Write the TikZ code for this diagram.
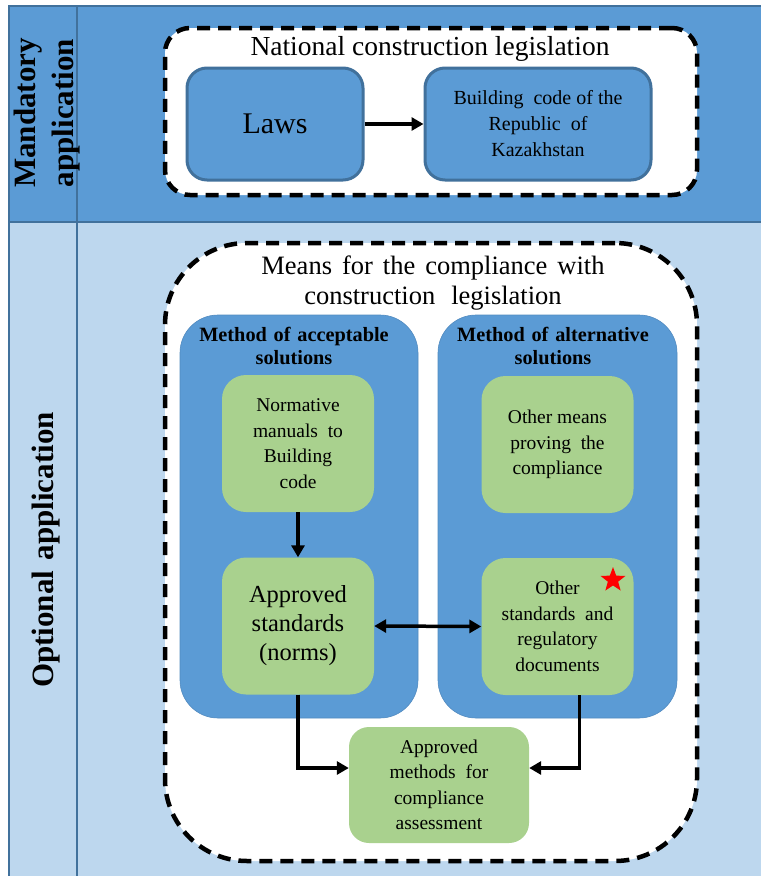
\documentclass[tikz,border=0pt]{standalone}
\usepackage{fontspec}
\setmainfont{Liberation Serif}
\usetikzlibrary{arrows.meta,shapes.geometric}
\definecolor{dblue}{HTML}{5B9BD5}
\definecolor{lblue}{HTML}{BDD7EE}
\definecolor{bline}{HTML}{41719C}
\definecolor{gbox}{HTML}{A9D18E}
\tikzset{
  dashbox/.style={draw=black, fill=white, line width=4.5pt, dash pattern=on 13pt off 8pt, rectangle, inner sep=0pt},
  bluebox/.style={draw=bline, fill=dblue, line width=3pt, rectangle, rounded corners=20pt, align=center, inner sep=0pt},
  panel/.style={draw=dblue!90!black, fill=dblue, line width=0.6pt, rectangle, rounded corners=38pt, minimum width=238pt, minimum height=403pt, inner sep=0pt},
  greenbox/.style={fill=gbox, rectangle, rounded corners=24pt, align=center, inner sep=0pt, minimum width=152pt, minimum height=137pt},
  gtext/.style={font=\fontsize{19.5}{25.5}\selectfont},
  ptitle/.style={text width=236pt, align=center, inner sep=0pt, font=\bfseries\fontsize{20.3}{23}\selectfont},
  arr/.style={line width=3.5pt, -{Triangle[length=12pt,width=13pt]}},
  darr/.style={line width=3.5pt, {Triangle[length=12pt,width=13pt]}-{Triangle[length=12pt,width=13pt]}},
  sidelabel/.style={rotate=90, text width=300pt, align=center, inner sep=0pt, font=\bfseries\fontsize{31}{38}\selectfont}
}
\begin{document}
\begin{tikzpicture}[x=1pt,y=-1pt]
\useasboundingbox (0,0) rectangle (761,876);
% table
\fill[dblue] (9,6) rectangle (761,222);
\fill[lblue] (9,222) rectangle (761,876);
\draw[bline, line width=1.5pt] (9,876) -- (9,6) -- (761,6);
\draw[bline, line width=1.5pt] (77,6) -- (77,876);
\draw[bline, line width=1.5pt] (9,222) -- (761,222);
\node[sidelabel] (mand) at (47,113) {Mandatory\\application};
\node[sidelabel] (opt) at (46,550) {Optional application};
% top group
\node[dashbox, rounded corners=25pt, minimum width=532pt, minimum height=167pt] (natl) at (431,111.5) {};
\node[font=\fontsize{27.5}{30}\selectfont] (natltitle) at (430,49) {National construction legislation};
\node[bluebox, minimum width=176pt, minimum height=112pt, font=\fontsize{30}{34}\selectfont] (laws) at (275,124) {Laws};
\node[bluebox, minimum width=226pt, minimum height=112pt, font=\fontsize{20}{26}\selectfont] (bcode) at (538,124) {Building\ \ code of the\\Republic\ \ of\\Kazakhstan};
\draw[arr] (laws.east) -- (bcode.west);
% bottom group
\node[dashbox, rounded corners=82pt, minimum width=532pt, minimum height=618pt] (means) at (431,552) {};
\node[text width=400pt, align=center, inner sep=0pt, font=\fontsize{26.5}{30}\selectfont] (meanstitle) at (433,283) {Means\hspace{10pt}for\hspace{10pt}the\hspace{10pt}compliance\hspace{10pt}with\\construction\hspace{16pt}legislation};
\node[panel] (lpanel) at (299,516.5) {};
\node[panel, minimum width=239pt] (rpanel) at (557.5,516.5) {};
\node[ptitle] (ltitle) at (294,346) {Method of acceptable\\solutions};
\node[ptitle] (rtitle) at (553,346) {Method of alternative\\solutions};
\node[greenbox, gtext] (norm) at (298,443.5) {Normative\\manuals\ \ to\\Building\\code};
\node[greenbox, gtext] (othmeans) at (557.5,444.5) {Other means\\proving\ \ the\\compliance};
\node[greenbox, font=\fontsize{24.5}{29}\selectfont] (appstd) at (298,626) {Approved\\standards\\(norms)};
\node[greenbox, gtext] (othstd) at (557.5,626.5) {Other\\standards\ \ and\\regulatory\\documents};
\node[greenbox, gtext, rounded corners=20pt, minimum width=180pt, minimum height=116pt] (methods) at (439,785) {Approved\\methods\ \ for\\compliance\\assessment};
\node[star, star points=5, star point ratio=2.4, fill=red, inner sep=0pt, minimum size=26pt] (star) at (613,580) {};
\draw[arr] (norm.south) -- (appstd.north);
\draw[darr] (appstd.east) -- (othstd.west);
\draw[arr] (appstd.south) |- ([yshift=17pt]methods.west);
\draw[arr] ([xshift=22pt]othstd.south) |- ([yshift=17pt]methods.east);
\end{tikzpicture}
\end{document}
